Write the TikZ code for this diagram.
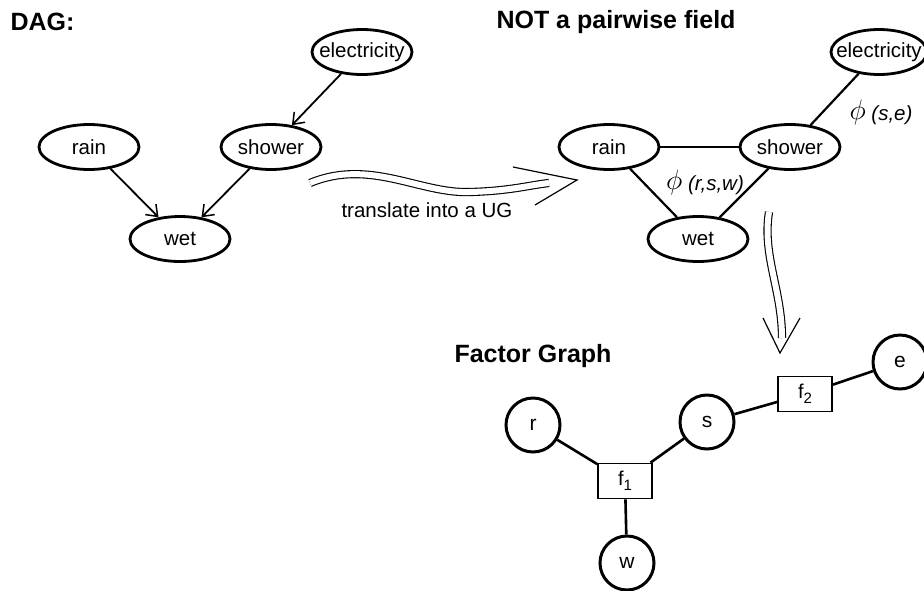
\documentclass[tikz,border=0pt]{standalone}
\usepackage{fontspec}
\setmainfont{Liberation Sans}
\usepackage{graphicx}
\usetikzlibrary{shapes.geometric,arrows.meta}
\newcommand{\subn}[1]{\raisebox{-0.45ex}{\fontsize{15}{17}\selectfont #1}}
\newcommand{\phisym}{\raisebox{0.1ex}{\scalebox{1.35}{$\phi$}}}
\tikzset{
  ell/.style={ellipse, draw, line width=2.8pt, minimum width=100pt, minimum height=45pt, inner sep=0pt},
  txt/.style={font=\fontsize{20.5}{23}\selectfont},
  ttl/.style={font=\fontsize{25}{29}\selectfont\bfseries},
  var/.style={circle, draw, line width=3pt, minimum size=54pt, inner sep=0pt, font=\fontsize{21}{24}\selectfont},
  fac/.style={rectangle, draw, line width=1.8pt, minimum width=54pt, minimum height=35pt, inner sep=0pt, font=\fontsize{20}{23}\selectfont},
  dagarr/.style={line width=1.8pt, -{Straight Barb[length=10pt,width=15pt,line width=1.5pt]}},
  ugedge/.style={line width=2.2pt},
  fedge/.style={line width=2.6pt},
  dbl/.style={double, double distance=6pt, line width=1.1pt},
  head/.style={line width=1.2pt}
}
\begin{document}
\begin{tikzpicture}[x=1pt,y=-1pt]
\useasboundingbox (0,0) rectangle (924,590);
\fill[white] (0,0) rectangle (924,590);
% titles
\node[ttl, anchor=west] (t1) at (7,22) {DAG:};
\node[ttl] (t2) at (616,22) {NOT a pairwise field};
\node[ttl] (t3) at (533,356) {Factor Graph};
% DAG
\node[ell, label={[txt]center:electricity}] (de) at (362,52) {};
\node[ell, label={[txt]center:rain}] (dr) at (89,147) {};
\node[ell, label={[txt]center:shower}] (ds) at (271,147) {};
\node[ell, label={[txt]center:wet}] (dw) at (180,239) {};
\draw[dagarr] (de) -- (ds);
\draw[dagarr] (dr) -- (dw);
\draw[dagarr] (ds) -- (dw);
% UG
\node[ell, minimum width=96pt, label={[txt]center:electricity}] (ue) at (879,52) {};
\node[ell, label={[txt]center:rain}] (ur) at (609,147) {};
\node[ell, label={[txt]center:shower}] (us) at (790,147) {};
\node[ell, label={[txt]center:wet}] (uw) at (698,239) {};
\draw[ugedge] (ur) -- (us);
\draw[ugedge] (ur) -- (uw);
\draw[ugedge] (us) -- (uw);
\draw[ugedge] (us) -- (ue);
\node[txt] (p1) at (705,182) {\phisym\ \textit{(r,s,w)}};
\node[txt] (p2) at (881,112) {\phisym\ \textit{(s,e)}};
% translate arrow
\coordinate (a1) at (310,183);
\coordinate (a2) at (549,183);
\coordinate (a3) at (577,180);
\draw[dbl] (a1) .. controls (370,158) and (420,194) .. (470,192) .. controls (510,191) and (530,185) .. (a2);
\draw[head] (513,167) -- (a3) -- (535,205);
\node[txt] (tl) at (427,210) {translate into a UG};
% down arrow
\coordinate (b1) at (769,212);
\coordinate (b2) at (782,338);
\coordinate (b3) at (780,353);
\draw[dbl] (b1) .. controls (762,255) and (782,290) .. (b2);
\draw[head] (763,318) -- (b3) -- (800,318);
% factor graph
\node[var] (r) at (533,425) {r};
\node[var] (s) at (707,422) {s};
\node[var] (e) at (900,362) {e};
\node[var] (w) at (627,563) {w};
\node[fac] (f1) at (625,481) {f\subn{1}};
\node[fac] (f2) at (805,394) {f\subn{2}};
\draw[fedge] (r) -- (f1);
\draw[fedge] (f1) -- (s);
\draw[fedge] (s) -- (f2);
\draw[fedge] (f2) -- (e);
\draw[fedge] (f1) -- (w);
\end{tikzpicture}
\end{document}
